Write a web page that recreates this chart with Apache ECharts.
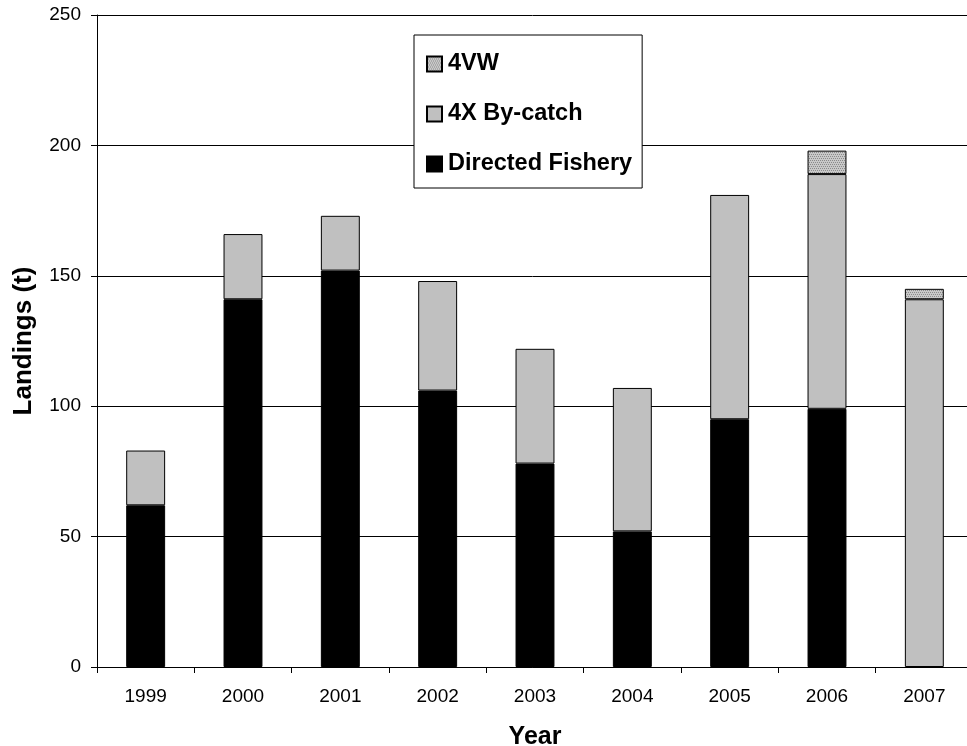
<!DOCTYPE html>
<html>
<head>
<meta charset="utf-8">
<script src="https://cdn.jsdelivr.net/npm/echarts@6/dist/echarts.min.js"></script>
<style>
  html, body { margin: 0; padding: 0; background: #fff; }
  #chart { width: 967px; height: 746px; }
</style>
</head>
<body>
<div id="chart"></div>
<script>
// Landings (t) by year, stacked by source
const years = ['1999', '2000', '2001', '2002', '2003', '2004', '2005', '2006', '2007'];
const directedFishery = [62, 141, 152, 106, 78, 52, 95, 99, null];
const byCatch4X = [21, 25, 21, 42, 44, 55, 86, 90, 141];
const area4VW = [null, null, null, null, null, null, null, 9, 4];
const yTicks = { min: 0, max: 250, interval: 50 };

const FONT = '"Liberation Sans", Arial, sans-serif';

// Stippled fill for the 4VW segments
function stipple() {
  const c = document.createElement('canvas');
  c.width = 4; c.height = 4;
  const g = c.getContext('2d');
  g.fillStyle = '#c8c8c8';
  g.fillRect(0, 0, 4, 4);
  g.fillStyle = '#8a8a8a';
  g.fillRect(0, 0, 1, 1);
  g.fillRect(2, 0, 1, 1);
  g.fillRect(1, 2, 1, 1);
  g.fillRect(3, 2, 1, 1);
  return c;
}

const chart = echarts.init(document.getElementById('chart'), null, { renderer: 'canvas' });

const barBorder = { borderColor: '#000', borderWidth: 1 };

chart.setOption({
  animation: false,
  backgroundColor: '#fff',
  grid: { left: 97, right: -6, top: 15, bottom: 79, containLabel: false, outerBoundsMode: 'none' },
  legend: {
    data: ['4VW', '4X By-catch', 'Directed Fishery'],
    orient: 'vertical',
    left: 414,
    top: 35,
    padding: [17, 10, 12, 12],
    itemGap: 26,
    itemWidth: 15,
    itemHeight: 15,
    icon: 'rect',
    backgroundColor: '#fff',
    borderColor: '#000',
    borderWidth: 1,
    selectedMode: false,
    textStyle: { fontFamily: FONT, fontSize: 23.5, fontWeight: 'bold', color: '#000', lineHeight: 22, padding: [0, 0, 0, 1] }
  },
  xAxis: {
    type: 'category',
    data: years,
    name: 'Year',
    nameLocation: 'middle',
    nameGap: 58,
    nameTextStyle: { fontFamily: FONT, fontSize: 25, fontWeight: 'bold', color: '#000' },
    axisLine: { lineStyle: { color: '#000', width: 1 } },
    axisTick: { show: true, length: 6, lineStyle: { color: '#000' } },
    axisLabel: { fontFamily: FONT, fontSize: 19, color: '#000', margin: 20 },
    splitLine: { show: false }
  },
  yAxis: {
    type: 'value',
    min: yTicks.min,
    max: yTicks.max,
    interval: yTicks.interval,
    name: 'Landings (t)',
    nameLocation: 'middle',
    nameGap: 60,
    nameTextStyle: { fontFamily: FONT, fontSize: 26, fontWeight: 'bold', color: '#000' },
    axisLine: { show: true, lineStyle: { color: '#000', width: 1 } },
    axisTick: { show: true, length: 6, lineStyle: { color: '#000' } },
    axisLabel: { fontFamily: FONT, fontSize: 19, color: '#000', margin: 16 },
    splitLine: { show: true, lineStyle: { color: '#000', width: 1 } }
  },
  series: [
    {
      name: 'Directed Fishery',
      type: 'bar',
      stack: 'total',
      barWidth: '40%',
      data: directedFishery,
      itemStyle: Object.assign({ color: '#000' }, barBorder)
    },
    {
      name: '4X By-catch',
      type: 'bar',
      stack: 'total',
      barWidth: '40%',
      data: byCatch4X,
      itemStyle: Object.assign({ color: '#c0c0c0' }, barBorder)
    },
    {
      name: '4VW',
      type: 'bar',
      stack: 'total',
      barWidth: '40%',
      data: area4VW,
      itemStyle: Object.assign({ color: { image: stipple(), repeat: 'repeat' } }, barBorder)
    }
  ]
});
</script>
</body>
</html>
